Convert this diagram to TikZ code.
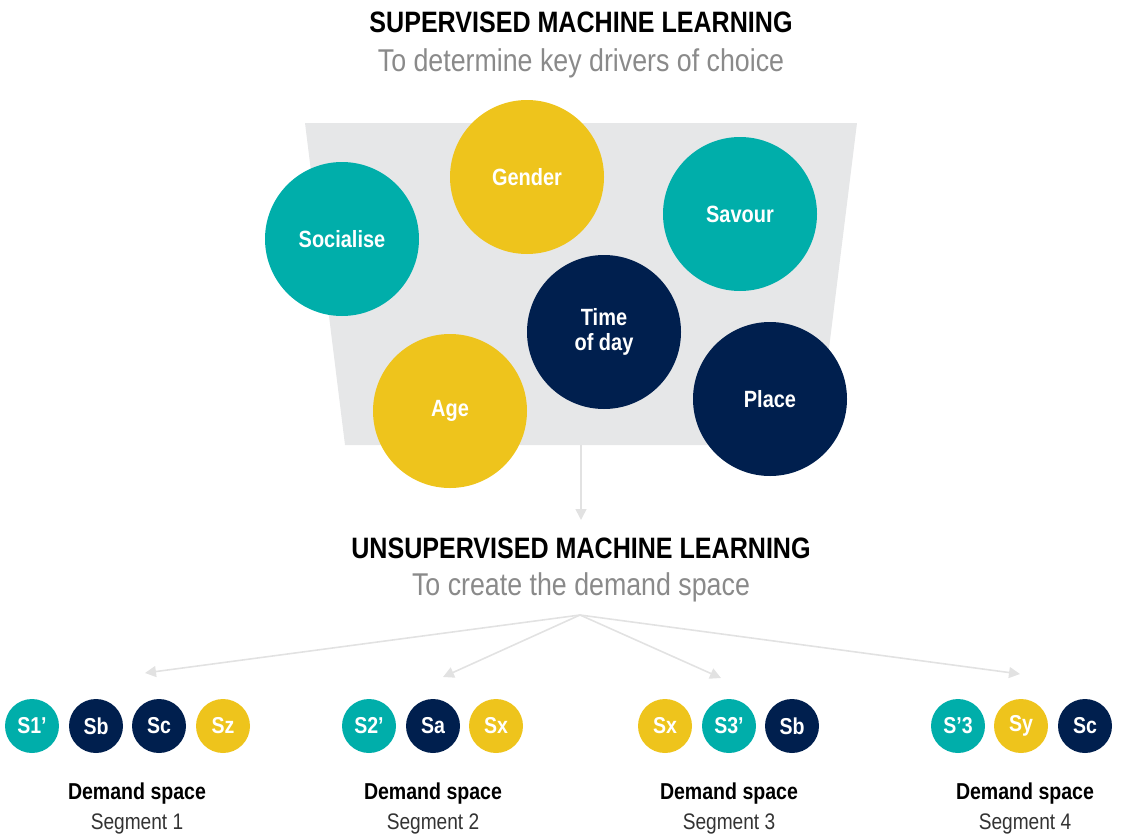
\documentclass[tikz,border=0pt]{standalone}
\usepackage{fontspec}
\setmainfont{Liberation Sans}[FakeStretch=0.85]
\usetikzlibrary{arrows.meta}
\definecolor{teal}{HTML}{00AEAA}
\definecolor{navy}{HTML}{001F4E}
\definecolor{gold}{HTML}{EEC41C}
\definecolor{panel}{HTML}{E6E7E8}
\definecolor{arrowgray}{HTML}{E2E2E2}
\definecolor{subgray}{HTML}{8A8A8A}
\definecolor{seggray}{HTML}{333333}
\begin{document}
\begin{tikzpicture}[x=1pt,y=-1pt,
  big/.style={circle,minimum size=154pt,inner sep=0pt,text=white,font=\fontsize{23.5}{24.5}\selectfont\bfseries,align=center},
  small/.style={circle,minimum size=54pt,inner sep=0pt,text=white,font=\fontsize{23}{24}\selectfont\bfseries},
  title/.style={font=\fontsize{29.5}{32}\selectfont\bfseries,text=black},
  subtitle/.style={font=\fontsize{31.5}{34}\selectfont,text=subgray},
  dslabel/.style={font=\fontsize{23}{24}\selectfont\bfseries,text=black},
  seglabel/.style={font=\fontsize{22.5}{24}\selectfont,text=seggray},
  conn/.style={draw=arrowgray,line width=1.6pt,-{Triangle[length=11pt,width=11pt]}}
]
\useasboundingbox (0,0) rectangle (1122,838);
% titles
\node[title] (t1) at (581,22) {SUPERVISED MACHINE LEARNING};
\node[subtitle] (s1) at (581,63) {To determine key drivers of choice};
% panel
\path[fill=panel] (305,123) -- (857,123) -- (817,445) -- (345,445) -- cycle;
\coordinate (pb) at (581,445);
\coordinate (pe) at (581,520);
\draw[conn] (pb) -- (pe);
% big circles
\node[big,fill=teal] (soc) at (342,239) {Socialise};
\node[big,fill=gold] (gen) at (527,177) {Gender};
\node[big,fill=teal] (sav) at (740,214) {Savour};
\node[big,fill=navy] (tod) at (604,332) {Time\\of day};
\node[big,fill=gold] (age) at (450,411) {Age};
\node[big,fill=navy] (pla) at (770,399) {Place};
% second titles
\node[title] (t2) at (581,548) {UNSUPERVISED MACHINE LEARNING};
\node[subtitle] (s2) at (581,587) {To create the demand space};
% fan arrows
\coordinate (hub) at (580,615);
\coordinate (e1) at (145,673);
\coordinate (e2) at (443,677);
\coordinate (e3) at (721,678);
\coordinate (e4) at (1020,674);
\foreach \e in {e1,e2,e3,e4} \draw[conn] (hub) -- (\e);
% small circles group 1
\node[small,fill=teal] (a1) at (32,726) {S1’};
\node[small,fill=navy] (a2) at (96,726) {Sb};
\node[small,fill=navy] (a3) at (159,726) {Sc};
\node[small,fill=gold] (a4) at (223,726) {Sz};
% group 2
\node[small,fill=teal] (b1) at (369,726) {S2’};
\node[small,fill=navy] (b2) at (433,726) {Sa};
\node[small,fill=gold] (b3) at (496,726) {Sx};
% group 3
\node[small,fill=gold] (c1) at (665,726) {Sx};
\node[small,fill=teal] (c2) at (729,726) {S3’};
\node[small,fill=navy] (c3) at (792,726) {Sb};
% group 4
\node[small,fill=teal] (d1) at (958,726) {S’3};
\node[small,fill=gold] (d2) at (1021,726) {Sy};
\node[small,fill=navy] (d3) at (1085,726) {Sc};
% labels
\node[dslabel] (l1) at (137,794) {Demand space};
\node[seglabel] (g1) at (137,824) {Segment 1};
\node[dslabel] (l2) at (433,794) {Demand space};
\node[seglabel] (g2) at (433,824) {Segment 2};
\node[dslabel] (l3) at (729,794) {Demand space};
\node[seglabel] (g3) at (729,824) {Segment 3};
\node[dslabel] (l4) at (1025,794) {Demand space};
\node[seglabel] (g4) at (1025,824) {Segment 4};
\end{tikzpicture}
\end{document}
